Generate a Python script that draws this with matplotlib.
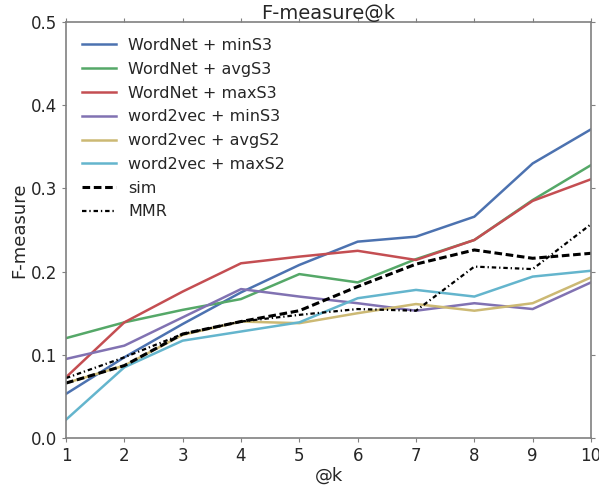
import matplotlib
matplotlib.use('Agg')
import matplotlib.pyplot as plt

k = [1, 2, 3, 4, 5, 6, 7, 8, 9, 10]

wn_min = [0.053, 0.097, 0.137, 0.175, 0.208, 0.236, 0.242, 0.266, 0.330, 0.371]
wn_avg = [0.120, 0.139, 0.154, 0.167, 0.197, 0.187, 0.215, 0.238, 0.286, 0.328]
wn_max = [0.073, 0.139, 0.176, 0.210, 0.218, 0.225, 0.214, 0.238, 0.285, 0.311]
w2v_min = [0.095, 0.111, 0.145, 0.179, 0.170, 0.162, 0.153, 0.162, 0.155, 0.187]
w2v_avg = [0.066, 0.087, 0.124, 0.140, 0.138, 0.150, 0.161, 0.153, 0.162, 0.193]
w2v_max = [0.022, 0.085, 0.117, 0.128, 0.139, 0.168, 0.178, 0.170, 0.194, 0.201]
sim = [0.066, 0.087, 0.125, 0.140, 0.153, 0.182, 0.209, 0.226, 0.216, 0.222]
mmr = [0.072, 0.097, 0.125, 0.140, 0.148, 0.155, 0.153, 0.206, 0.203, 0.257]

fig = plt.figure(figsize=(5.99, 4.87), dpi=100)
ax = fig.add_axes([66 / 599, 1 - 438 / 487, 525 / 599, 416 / 487])

ax.plot(k, wn_min, color='#4C72B0', lw=1.8, label='WordNet + minS3')
ax.plot(k, wn_avg, color='#55A868', lw=1.8, label='WordNet + avgS3')
ax.plot(k, wn_max, color='#C44E52', lw=1.8, label='WordNet + maxS3')
ax.plot(k, w2v_min, color='#8172B2', lw=1.8, label='word2vec + minS3')
ax.plot(k, w2v_avg, color='#CCB974', lw=1.8, label='word2vec + avgS2')
ax.plot(k, w2v_max, color='#64B5CD', lw=1.8, label='word2vec + maxS2')
ax.plot(k, sim, color='black', lw=2.2, ls='--', dashes=(2.5, 1.2), label='sim')
ax.plot(k, mmr, color='black', lw=1.6, ls='-.', dashes=(2, 1.3, 0.6, 1.3), label='MMR')

ax.set_xlim(1, 10)
ax.set_ylim(0, 0.5)
ax.set_xticks(k)
ax.set_yticks([0.0, 0.1, 0.2, 0.3, 0.4, 0.5])
ax.set_xlabel('@k', fontsize=13, color='#262626', labelpad=1)
ax.set_ylabel('F-measure', fontsize=13, color='#262626', labelpad=2)
ax.set_title('F-measure@k', fontsize=14, color='#262626', pad=2)
for s in ax.spines.values():
    s.set_color('#808080')
    s.set_linewidth(1.2)
ax.tick_params(colors='#808080', labelcolor='#262626', labelsize=12, length=3,
               top=True, right=True, direction='out')
leg = ax.legend(loc='upper left', frameon=False, fontsize=11.5, handlelength=2.1,
                handletextpad=0.8, borderaxespad=0.6, labelspacing=0.55)
for t in leg.get_texts():
    t.set_color('#262626')

plt.savefig('out.png', dpi=100)
